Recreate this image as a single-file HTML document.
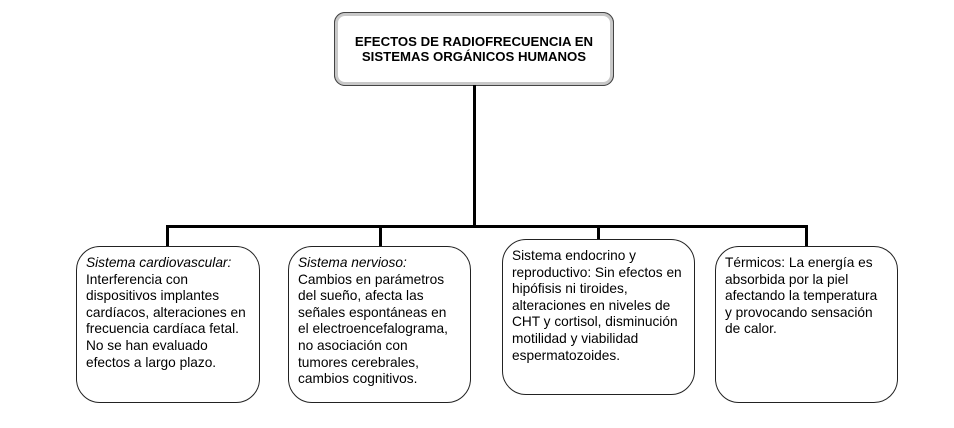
<!DOCTYPE html>
<html><head><meta charset="utf-8"><style>
body{margin:0;width:954px;height:428px;background:#fff;position:relative;overflow:hidden;font-family:"Liberation Sans",Arial,sans-serif;}
.ln{position:absolute;background:#000;}
.top{position:absolute;left:335px;top:13px;width:272px;height:66px;border:3px solid #c8c8c8;outline:1px solid #444;border-radius:10px;box-shadow:0 0 0 1px #444;text-align:center;font-weight:bold;font-size:13.2px;line-height:14.5px;}
.top div{position:absolute;top:19px;left:0;right:0;}
.b{position:absolute;border:1.3px solid #222;border-radius:24px;box-sizing:border-box;font-size:13.7px;line-height:16.6px;color:#000;padding:8px 0 0 9px;white-space:nowrap;}
</style></head><body>
<div class="top"><div>EFECTOS DE RADIOFRECUENCIA EN<br>SISTEMAS ORGÁNICOS HUMANOS</div></div>
<div class="ln" style="left:473px;top:85px;width:3px;height:143px"></div>
<div class="ln" style="left:166px;top:225px;width:642px;height:3px"></div>
<div class="ln" style="left:166px;top:225px;width:3px;height:22px"></div>
<div class="ln" style="left:379px;top:225px;width:3px;height:22px"></div>
<div class="ln" style="left:597px;top:225px;width:3px;height:15px"></div>
<div class="ln" style="left:805px;top:225px;width:3px;height:22px"></div>
<div class="b" style="left:76px;top:246px;width:184px;height:157px"><i>Sistema cardiovascular:</i><br>Interferencia con<br>dispositivos implantes<br>cardíacos, alteraciones en<br>frecuencia cardíaca fetal.<br>No se han evaluado<br>efectos a largo plazo.</div>
<div class="b" style="left:288px;top:246px;width:183px;height:157px"><i>Sistema nervioso:</i><br>Cambios en parámetros<br>del sueño, afecta las<br>señales espontáneas en<br>el electroencefalograma,<br>no asociación con<br>tumores cerebrales,<br>cambios cognitivos.</div>
<div class="b" style="left:502px;top:239px;width:193px;height:156px">Sistema endocrino y<br>reproductivo: Sin efectos en<br>hipófisis ni tiroides,<br>alteraciones en niveles de<br>CHT y cortisol, disminución<br>motilidad y viabilidad<br>espermatozoides.</div>
<div class="b" style="left:715px;top:246px;width:183px;height:157px">Térmicos: La energía es<br>absorbida por la piel<br>afectando la temperatura<br>y provocando sensación<br>de calor.</div>
</body></html>
